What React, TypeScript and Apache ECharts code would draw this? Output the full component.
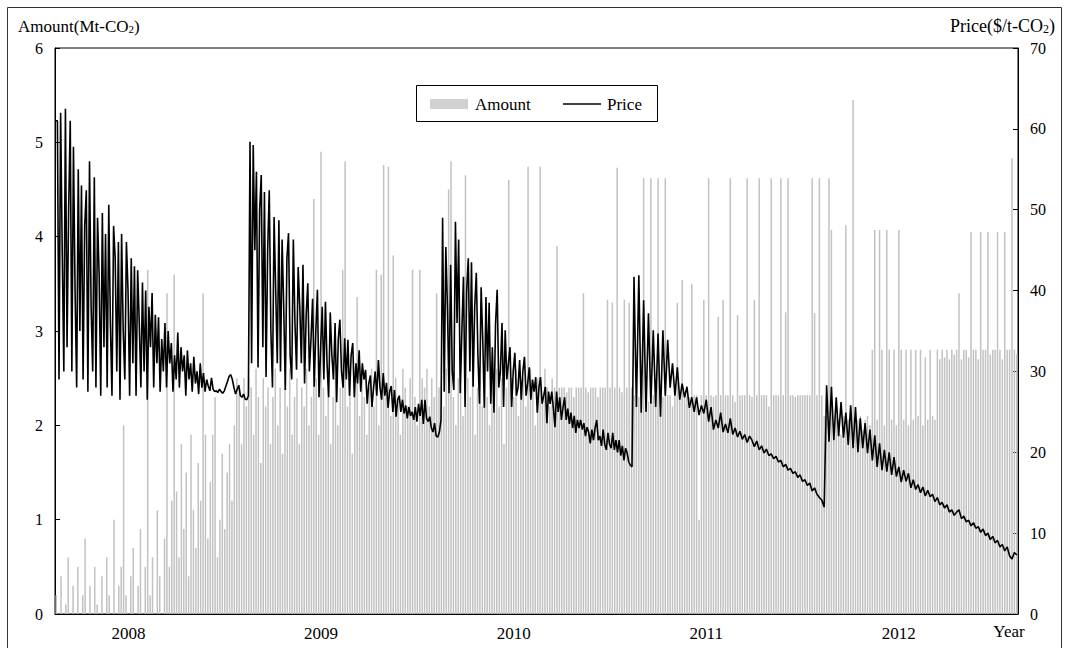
import React, { useEffect, useRef } from "react";
import * as echarts from "echarts";

const YEARS = ["2008", "2009", "2010", "2011", "2012"];
const BARS_PER_YEAR = 80;
const LABEL_INDEX_IN_YEAR = 30;

const AMOUNT_MIN = 0;
const AMOUNT_MAX = 6;
const AMOUNT_STEP = 1;
const PRICE_MIN = 0;
const PRICE_MAX = 70;
const PRICE_STEP = 10;

// Price ($/t-CO2) (spread evenly over each year)
const price2008 = [
  61, 61, 29, 62, 45, 30, 62.5, 33, 50, 61,
  30, 57.8, 40, 28, 55, 35, 53, 29, 48, 52.4,
  27.5, 56, 38, 30, 54, 28, 49, 42, 27, 49.6,
  33, 47, 28, 50.6, 36, 27, 48, 44, 30, 46,
  26.5, 47, 35, 29, 46, 40, 27, 44, 31, 43,
  27, 42.5, 36, 28, 41, 30, 40, 26.5, 38, 33,
  39.7, 28, 37, 31, 36.7, 27.5, 34, 30, 36, 28,
  35, 31, 33.5, 27.5, 32, 29, 34.8, 28, 33, 30,
  32, 27, 32.6, 29, 31, 27.5, 31.8, 28.5, 30, 27.2,
  31, 28, 29.8, 27.5, 29, 28.2, 27.6, 29.2, 27.8, 27.5,
  27.6, 27.4, 27.8, 27.5, 27.3, 27.6, 28.2, 28.8, 29.4, 29.6,
  29, 28, 27.2, 27.8, 28.3, 27, 26.8, 27.2, 26.6, 26.5,
];
const price2009 = [
  27, 58.4, 31, 58, 45, 54.7, 30.5, 50, 54.3, 33,
  52.2, 29.3, 45, 52.4, 35, 28, 49.1, 40, 31, 48.7,
  30, 46.3, 38, 27.7, 44, 47.1, 32, 29, 46.3, 36,
  30.2, 42.9, 38, 31, 43.2, 28.5, 37, 40.9, 30, 34,
  39, 28.1, 35, 40.1, 26.8, 33, 38, 29, 38.6, 31,
  26.8, 37.3, 32, 29, 36, 26.2, 34, 36.4, 30, 28,
  34.1, 29, 33.9, 27, 32, 33.5, 26.8, 31, 28.5, 32.6,
  27.5, 31, 29, 30.2, 26, 28.5, 29.5, 25.6, 28, 30,
  27, 31.4, 28, 26.5, 29.8, 27, 28.6, 25.5, 27.5, 28.2,
  25, 27.7, 24.4, 26.5, 27, 25, 26.5, 24.8, 25.8, 24.2,
  25.6, 24.5, 25, 24, 25.6, 23.8, 26, 24.5, 26.5, 23.5,
  26.5, 24.2, 23.8, 24.4, 23, 22.5, 23.6, 22, 21.9, 22.5,
];
const price2010 = [
  24, 49, 27.5, 45.4, 38, 27.3, 43.2, 30, 27.7, 48.5,
  36, 46.3, 27.3, 35, 41.7, 25.6, 40, 44, 30, 43.5,
  28.1, 38, 42.2, 32, 26, 40.4, 34, 25.5, 39.2, 30,
  38.5, 26, 33, 24.9, 36, 40.1, 28, 30, 36, 25.6,
  35.1, 29, 31, 33, 25.6, 30, 32.3, 27, 28, 31.4,
  26.5, 30, 31.8, 27, 28.5, 30.5, 26.5, 29, 27.5, 29.3,
  24.9, 28, 29.3, 26, 27, 28.1, 23.6, 27.5, 26, 27.5,
  25.5, 23.1, 27.5, 25, 26.8, 24, 25.5, 26.8, 24, 25.4,
  23.5, 24.9, 23, 24.5, 22.4, 24, 23, 24, 22.8, 23.6,
  22, 23.1, 22.5, 21.1, 22.8, 21.5, 23, 24, 21.5, 22,
  20.8, 22.8, 21, 20.3, 22.4, 21, 20.5, 22.4, 20.3, 21.5,
  20, 21.5, 19.6, 20.8, 19, 20.5, 19.9, 18.8, 18.4, 18.2,
];
const price2011 = [
  41.7, 25.6, 41.9, 24.9, 38.8, 25, 37.2, 26, 35.1, 25.6,
  34.7, 24.4, 35.1, 27, 33.9, 28, 31, 27, 30.5, 26.5,
  28.5, 26.8, 28.1, 25.5, 26.8, 25, 26.8, 24.6, 25.8, 24.8,
  26.5, 23.8, 25.6, 22.8, 24, 23, 24.9, 22.5, 23.5, 22.4,
  24.2, 22.2, 23, 21.9, 22.6, 21.6, 22.2, 21.2, 22, 21.5,
  20.7, 21.4, 20.3, 20.8, 19.9, 20.4, 19.6, 19.8, 19.2, 19.5,
  18.8, 19, 18.2, 18.5, 17.8, 18, 17.4, 17.6, 16.9, 17.2,
  16.4, 16.6, 15.9, 16.2, 15.2, 15.6, 14.8, 14.4, 14.1, 13.2,
];
const price2012 = [
  28.3, 21.3, 28.1, 21.5, 26.8, 22, 26.2, 21.8, 24.9, 20.9,
  25.8, 20.5, 25.6, 20, 24.2, 20.5, 23.6, 19.9, 22.8, 19,
  22.1, 18.2, 21.1, 17.8, 20.3, 17.6, 20, 17.2, 19.4, 17,
  18.2, 16.3, 17.8, 16.4, 17.4, 15.6, 16.6, 15.4, 16, 15,
  15.7, 14.6, 15.3, 14.5, 14.8, 13.9, 14.4, 13.5, 13.8, 13.1,
  13.5, 12.6, 12.9, 12.2, 12.6, 12.9, 11.8, 12.1, 11.4, 11.6,
  10.9, 11.3, 10.6, 10.8, 10.1, 10.5, 9.7, 10, 9.2, 9.6,
  8.8, 9.1, 8.3, 8.6, 7.8, 8.3, 7.2, 6.8, 7.6, 7.3,
];

// Amount (Mt-CO2)
const amount2008 = [
  0.2, 0, 0.4, 0, 0.1, 0.6, 0, 0.3, 0, 0.5,
  0, 0.2, 0.8, 0, 0.3, 0, 0.5, 0.1, 0, 0.4,
  0, 0.6, 0.2, 0, 1.0, 0, 0.3, 0.5, 2.0, 0.2,
  0, 0.4, 0.7, 0, 0.3, 0.9, 0, 0.5, 3.65, 0.2,
  0.6, 0, 1.1, 0.4, 0, 0.8, 3.4, 0.5, 1.2, 3.6,
  1.3, 0.6, 1.8, 0.9, 1.5, 0.4, 1.9, 1.1, 0.7, 1.6,
  1.2, 3.4, 1.9, 0.8, 1.4, 1.9, 2.3, 0.6, 1.0, 1.7,
  0.9, 1.5, 1.8, 1.2, 2.0, 2.5, 2.4, 1.8, 2.5, 2.2,
];
const amount2009 = [
  2.5, 2.4, 1.9, 2.6, 2.3, 1.6, 2.5, 2.2, 2.4, 1.8,
  2.3, 2.6, 2.0, 2.4, 1.7, 2.5, 2.2, 2.6, 1.9, 2.3,
  2.5, 1.8, 2.4, 2.2, 2.6, 2.0, 2.3, 4.4, 2.5, 1.9,
  4.9, 2.4, 2.1, 2.6, 1.8, 2.3, 2.5, 2.0, 2.4, 3.65,
  4.8, 2.2, 2.5, 1.7, 2.4, 3.36, 2.1, 2.5, 2.3, 1.9,
  2.4, 2.6, 2.2, 3.65, 2.0, 3.6, 4.76, 2.4, 4.74, 2.1,
  3.8, 2.5, 2.3, 1.9, 2.6, 2.4, 2.2, 2.5, 3.65, 2.3,
  2.0, 3.65, 2.5, 2.4, 2.6, 2.2, 2.5, 2.3, 3.4, 2.4,
];
const amount2010 = [
  2.4, 2.2, 2.6, 4.5, 4.8, 2.3, 2.0, 2.5, 2.4, 2.1,
  4.65, 2.5, 2.3, 2.6, 1.9, 2.4, 2.5, 2.2, 2.6, 2.3,
  2.0, 2.5, 2.4, 2.6, 2.2, 2.5, 1.8, 2.4, 4.6, 2.5,
  2.3, 2.6, 2.1, 2.4, 2.5, 2.2, 4.74, 2.6, 2.4, 2.0,
  2.5, 4.74, 2.3, 2.6, 2.4, 2.2, 2.5, 2.4, 3.9, 2.4,
  2.4, 2.4, 2.35, 2.4, 2.4, 2.3, 2.4, 2.4, 2.4, 3.4,
  2.4, 2.35, 2.4, 2.4, 2.4, 2.3, 2.4, 2.4, 2.4, 3.33,
  2.4, 3.3, 2.4, 4.73, 2.4, 2.35, 3.33, 2.4, 3.3, 2.4,
];
const amount2011 = [
  2.32, 2.32, 2.3, 2.32, 4.62, 2.32, 2.25, 4.62, 2.32, 2.32,
  4.62, 2.32, 2.3, 4.62, 2.32, 2.32, 2.2, 2.32, 3.3, 2.32,
  3.54, 2.32, 2.32, 2.3, 3.5, 2.32, 2.32, 1.0, 2.32, 3.33,
  2.32, 4.62, 2.32, 2.3, 2.32, 3.15, 2.32, 3.33, 2.32, 2.32,
  4.62, 2.32, 2.25, 3.17, 2.32, 2.32, 2.32, 4.62, 2.32, 2.3,
  3.33, 2.32, 4.62, 2.32, 2.32, 2.32, 2.2, 4.62, 2.32, 2.32,
  2.32, 4.62, 2.32, 3.2, 4.62, 2.32, 2.32, 2.3, 2.32, 2.32,
  2.32, 2.32, 2.32, 2.32, 4.62, 3.19, 2.32, 4.62, 2.32, 2.1,
];
const amount2012 = [
  2.1, 4.62, 4.07, 2.0, 2.1, 2.06, 1.9, 2.1, 4.12, 2.06,
  2.1, 5.45, 2.0, 2.06, 2.1, 1.95, 2.06, 2.1, 2.0, 2.8,
  4.07, 2.06, 4.07, 2.8, 2.0, 4.07, 2.8, 2.06, 2.8, 2.0,
  4.07, 2.8, 2.06, 2.8, 2.0, 2.8, 2.06, 2.8, 2.1, 2.8,
  2.0, 2.72, 2.06, 2.8, 2.1, 2.06, 2.8, 2.7, 2.8, 2.72,
  2.8, 2.7, 2.8, 2.75, 2.8, 3.4, 2.7, 2.8, 2.8, 2.72,
  4.05, 2.8, 2.8, 2.7, 4.05, 2.8, 2.8, 4.05, 2.75, 2.8,
  2.8, 4.05, 2.8, 2.7, 4.05, 2.8, 2.8, 4.83, 2.8, 2.75,
];

const priceByYear = [price2008, price2009, price2010, price2011, price2012];
const amounts = [...amount2008, ...amount2009, ...amount2010, ...amount2011, ...amount2012];
// position of each price reading in "years since start"
const pricePoints = priceByYear.flatMap((arr, k) =>
  arr.map((v, i) => [k + (i + 0.5) / arr.length, v])
);
const categories = YEARS.flatMap((y) =>
  Array.from({ length: BARS_PER_YEAR }, (_, k) => `${y}-${String(k + 1).padStart(2, "0")}`)
);

const FONT = '"Liberation Serif", "Times New Roman", Times, serif';

export default function App() {
  const ref = useRef<HTMLDivElement>(null);

  useEffect(() => {
    if (!ref.current) return;
    const chart = echarts.init(ref.current, null, { renderer: "svg" });
    const axisText = { color: "#000", fontFamily: FONT, fontSize: 16 };
    chart.setOption({
      animation: false,
      backgroundColor: "#ffffff",
      grid: {
        left: 55,
        right: 48,
        top: 48,
        bottom: 34,
        show: true,
        borderColor: "#000",
        borderWidth: 1,
        backgroundColor: "transparent",
      },
      xAxis: [
        {
          type: "category",
          data: categories,
          boundaryGap: true,
          axisLine: { lineStyle: { color: "#000", width: 1 } },
          axisTick: { show: false },
          splitLine: { show: false },
          axisLabel: {
            interval: (index: number) => index % BARS_PER_YEAR === LABEL_INDEX_IN_YEAR,
            formatter: (v: string) => v.slice(0, 4),
            color: "#000",
            fontFamily: FONT,
            fontSize: 17,
            margin: 11,
          },
        },
        {
          type: "value",
          min: 0,
          max: YEARS.length,
          show: false,
        },
      ],
      yAxis: [
        {
          type: "value",
          min: AMOUNT_MIN,
          max: AMOUNT_MAX,
          interval: AMOUNT_STEP,
          position: "left",
          axisLine: { show: true, lineStyle: { color: "#000", width: 1 } },
          axisTick: { show: true, inside: true, length: 5, lineStyle: { color: "#000" } },
          splitLine: { show: false },
          axisLabel: { ...axisText, margin: 12 },
        },
        {
          type: "value",
          min: PRICE_MIN,
          max: PRICE_MAX,
          interval: PRICE_STEP,
          position: "right",
          axisLine: { show: true, lineStyle: { color: "#000", width: 1 } },
          axisTick: { show: true, inside: true, length: 5, lineStyle: { color: "#000" } },
          splitLine: { show: false },
          axisLabel: { ...axisText, margin: 12 },
        },
      ],
      series: [
        {
          name: "Amount",
          type: "bar",
          xAxisIndex: 0,
          yAxisIndex: 0,
          data: amounts,
          barWidth: 1.5,
          itemStyle: { color: "#c2c2c2" },
          silent: true,
        },
        {
          name: "Price",
          type: "line",
          xAxisIndex: 1,
          yAxisIndex: 1,
          data: pricePoints,
          symbol: "none",
          showSymbol: false,
          lineStyle: { color: "#000", width: 1.6 },
          silent: true,
        },
      ],
      graphic: [
        {
          type: "rect",
          silent: true,
          shape: { x: 7.5, y: 7.5, width: 1054, height: 700 },
          style: { fill: "none", stroke: "#333", lineWidth: 1 },
        },
        {
          type: "text",
          silent: true,
          x: 18,
          y: 26,
          style: {
            text: "Amount(Mt-CO{s|2})",
            font: `17px ${FONT}`,
            fill: "#000",
            textAlign: "left",
            textVerticalAlign: "middle",
            rich: { s: { fontSize: 11, fontFamily: FONT, fill: "#000", verticalAlign: "bottom" } },
          },
        },
        {
          type: "text",
          silent: true,
          x: 1055,
          y: 26,
          style: {
            text: "Price($/t-CO{s|2})",
            font: `18px ${FONT}`,
            fill: "#000",
            textAlign: "right",
            textVerticalAlign: "middle",
            rich: { s: { fontSize: 12, fontFamily: FONT, fill: "#000", verticalAlign: "bottom" } },
          },
        },
        {
          type: "text",
          silent: true,
          x: 1009,
          y: 631,
          style: {
            text: "Year",
            font: `17px ${FONT}`,
            fill: "#000",
            textAlign: "center",
            textVerticalAlign: "middle",
          },
        },
        {
          type: "rect",
          silent: true,
          shape: { x: 416.5, y: 85.5, width: 241, height: 36 },
          style: { fill: "#fff", stroke: "#000", lineWidth: 1 },
        },
        {
          type: "rect",
          silent: true,
          shape: { x: 430, y: 99, width: 38, height: 10 },
          style: { fill: "#d2d2d2" },
        },
        {
          type: "text",
          silent: true,
          x: 475,
          y: 104,
          style: {
            text: "Amount",
            font: `17px ${FONT}`,
            fill: "#000",
            textAlign: "left",
            textVerticalAlign: "middle",
          },
        },
        {
          type: "line",
          silent: true,
          shape: { x1: 563, y1: 104, x2: 601, y2: 104 },
          style: { stroke: "#000", lineWidth: 1.4 },
        },
        {
          type: "text",
          silent: true,
          x: 607,
          y: 104,
          style: {
            text: "Price",
            font: `17px ${FONT}`,
            fill: "#000",
            textAlign: "left",
            textVerticalAlign: "middle",
          },
        },
      ],
    });
    return () => chart.dispose();
  }, []);

  return (
    <div
      ref={ref}
      style={{ position: "absolute", left: 0, top: 0, width: 1066, height: 648, background: "#fff" }}
    />
  );
}
